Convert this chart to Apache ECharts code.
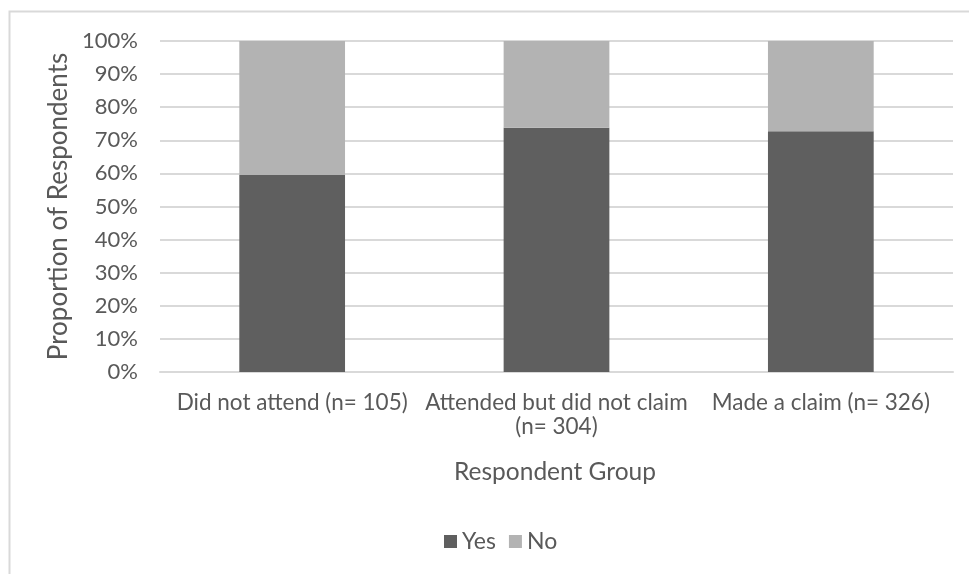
<!DOCTYPE html>
<html>
<head>
<meta charset="utf-8">
<script src="https://cdn.jsdelivr.net/npm/echarts@6/dist/echarts.min.js"></script>
<style>html,body{margin:0;padding:0;background:#fff}#c{width:969px;height:574px}</style>
</head>
<body>
<div id="c"></div>
<script>
var categories = ["Did not attend (n= 105)", "Attended but did not claim\n(n= 304)", "Made a claim (n= 326)"];
var yesValues = [59.5, 73.8, 72.7];
var noValues = [40.5, 26.2, 27.3];
var seriesNames = ["Yes", "No"];
var yAxisTitle = "Proportion of Respondents";
var xAxisTitle = "Respondent Group";

var FONT = "Lato";
var TXT = "#595959";
var chart = echarts.init(document.getElementById('c'));
chart.setOption({
  animation: false,
  textStyle: { fontFamily: FONT, color: TXT },
  graphic: [{
    type: 'rect', silent: true,
    shape: { x: 9.5, y: 11.5, width: 1200, height: 1200 },
    style: { fill: 'none', stroke: '#d9d9d9', lineWidth: 2 }
  }, {
    type: 'text', x: 555, y: 472,
    style: { text: xAxisTitle, fontSize: 24.5, fontFamily: FONT, fill: TXT, align: 'center', verticalAlign: 'middle' }
  }],
  legend: {
    top: 530, left: 444, padding: 0,
    itemWidth: 13, itemHeight: 13, itemGap: 13,
    icon: 'rect',
    textStyle: { fontFamily: FONT, fontSize: 23, color: TXT, padding: [0,0,0,0] },
    data: seriesNames
  },
  grid: { left: 160, right: 16, top: 41, bottom: 202, containLabel: false },
  xAxis: {
    type: 'category', data: categories,
    axisLine: { lineStyle: { color: '#d9d9d9', width: 2 } },
    axisTick: { show: false },
    axisLabel: { fontFamily: FONT, fontSize: 22.5, color: TXT, margin: 19, lineHeight: 24, interval: 0 }
  },
  yAxis: {
    type: 'value', min: 0, max: 100, interval: 10,
    name: yAxisTitle, nameLocation: 'middle', nameGap: 86, nameRotate: 90,
    nameTextStyle: { fontFamily: FONT, fontSize: 26, color: TXT },
    axisLine: { show: false }, axisTick: { show: false },
    axisLabel: { formatter: '{value}%', fontFamily: FONT, fontSize: 22, color: TXT, margin: 22 },
    splitLine: { lineStyle: { color: '#d9d9d9', width: 2 } }
  },
  series: [{
    name: seriesNames[0], type: 'bar', stack: 'a', data: yesValues,
    barCategoryGap: '60%', itemStyle: { color: '#5f5f5f' }
  }, {
    name: seriesNames[1], type: 'bar', stack: 'a', data: noValues,
    barCategoryGap: '60%', itemStyle: { color: '#b3b3b3' }
  }]
});
</script>
</body>
</html>
